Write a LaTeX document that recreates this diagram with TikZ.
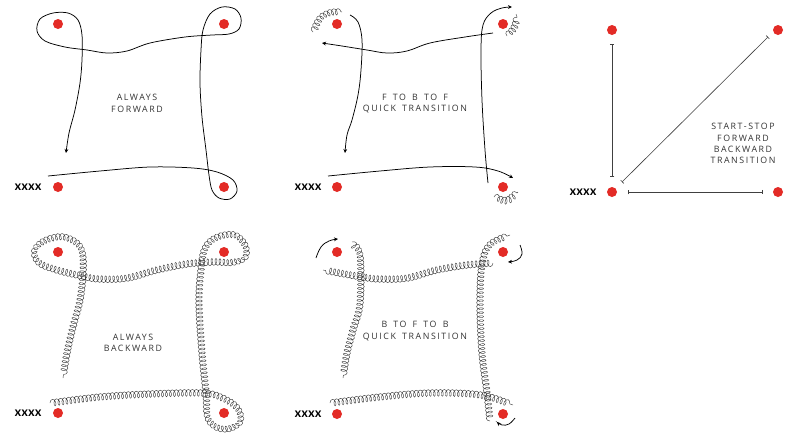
\documentclass[tikz,border=0pt]{standalone}
\usepackage{fontspec}
\usetikzlibrary{arrows.meta,decorations.pathmorphing,calc}
\newfontfamily\labelfont[LetterSpace=18,WordSpace=1.6]{Open Sans}
\newfontfamily\xfont[LetterSpace=6]{Lato Black}
\definecolor{dotred}{HTML}{E32B26}
\definecolor{txtgray}{HTML}{333333}
\tikzset{
  dot/.style={circle,fill=dotred,minimum size=10pt,inner sep=0pt},
  xlabel/.style={font=\xfont\fontsize{9}{10}\selectfont,text=black,inner sep=0pt},
  title/.style={font=\labelfont\fontsize{8.8}{11.3}\selectfont,text=txtgray,align=center,inner sep=0pt},
  fline/.style={line width=0.75pt,black},
  tip/.style={-{Stealth[length=4pt,width=3.8pt]}},
  coiled/.style={line width=0.45pt,black!75,decorate,decoration={coil,amplitude=3.4pt,segment length=4pt,aspect=0.55}},
  barline/.style={line width=0.6pt,black!75,{Bar[width=4.5pt]}-{Bar[width=4.5pt]}},
}
% Catmull-Rom curve through x/y points, with non-degenerate end controls
\newcommand\crcurve[2]{%
  \foreach [count=\k] \px/\py in {#2} {\coordinate (cr\k) at (\px,\py); \xdef\crN{\k}}%
  \coordinate (cr0) at (cr1);%
  \pgfmathtruncatemacro\crM{\crN+1}%
  \coordinate (cr\crM) at (cr\crN);%
  \pgfmathtruncatemacro\crL{\crN-1}%
  \draw[#1] (cr1) foreach \a [evaluate=\a as \b using int(\a+1), evaluate=\a as \z using int(\a-1), evaluate=\a as \c using int(\a+2)] in {1,...,\crL} { .. controls ($(cr\a)+0.16667*(cr\b)-0.16667*(cr\z)$) and ($(cr\b)-0.16667*(cr\c)+0.16667*(cr\a)$) .. (cr\b) };%
}
\begin{document}
\begin{tikzpicture}[x=1pt,y=-1pt]
\path[use as bounding box,fill=white] (0,0) rectangle (793,432);

% ---------- Panel 1: always forward ----------
\begin{scope}
\node[dot] (a1) at (58,24) {};
\node[dot] (a2) at (224,24) {};
\node[dot] (a3) at (58,187) {};
\node[dot] (a4) at (224,187) {};
\node[xlabel] (ax) at (28,187) {XXXX};
\node[title] (at) at (137,103.5) {ALWAYS\\FORWARD};
\draw[fline,tip] plot[smooth,tension=0.55] coordinates {
 (48,176) (100,171) (150,167) (193,168) (217,172) (233,180) (237,191) (230,199) (219,198) (212,190)
 (209,175) (206,150) (202,117) (200,83) (201,50) (203,30) (210,14) (222,7) (235,9) (241,18) (239,29)
 (229,34) (212,35) (185,37) (150,43) (127,51) (107,53) (87,50) (65,47) (45,41) (37,31) (40,19)
 (53,13) (68,13) (78,20) (82,35) (82,60) (80,83) (75,110) (69,133) (66,153)};
\end{scope}

% ---------- Panel 2: F to B to F ----------
\begin{scope}[shift={(280,0)}]
\node[dot] (b1) at (57,24) {};
\node[dot] (b2) at (223,24) {};
\node[dot] (b3) at (57,187) {};
\node[dot] (b4) at (223,187) {};
\node[xlabel] (bx) at (28,187) {XXXX};
\node[title] (bt) at (135,103.5) {F TO B TO F\\QUICK TRANSITION};
\draw[fline,tip] plot[smooth,tension=0.6] coordinates {
 (48,176) (100,171) (150,167) (195,167) (218,171) (233,178)};
\draw[fline,tip] plot[smooth,tension=0.6] coordinates {
 (208,183) (205,150) (202,100) (201,50) (203,25) (211,13) (222,8) (232,7)};
\draw[fline,tip] plot[smooth,tension=0.6] coordinates {
 (213,33) (185,37) (150,43) (127,51) (107,53) (87,50) (62,46) (42,43)};
\draw[fline,tip] plot[smooth,tension=0.6] coordinates {
 (70,15) (78,22) (82,40) (81,70) (78,95) (72,120) (67,135) (65,153)};
\crcurve{coiled}{33/32, 40/19, 50/13, 62/12}
\crcurve{coiled}{227/36, 233/29, 236/21, 236/14}
\crcurve{coiled}{214/197, 226/200, 238/192}
\end{scope}

% ---------- Panel 3: start-stop ----------
\begin{scope}
\node[dot] (c1) at (612,30) {};
\node[dot] (c2) at (778,30) {};
\node[dot] (c3) at (612,192) {};
\node[dot] (c4) at (778,192) {};
\node[xlabel] (cx) at (583,192) {XXXX};
\node[title] (ct) at (743,143.5) {START-STOP\\FORWARD\\BACKWARD\\TRANSITION};
\draw[barline] ($(c1)+(0,14)$) -- ($(c3)+(0,-15)$);
\draw[barline] ($(c3)+(10,-10)$) -- ($(c2)+(-10,7)$);
\draw[barline] ($(c3)+(16,0)$) -- ($(c4)+(-15,0)$);
\end{scope}

% ---------- Panel 4: always backward ----------
\begin{scope}[shift={(0,227)}]
\node[dot] (d1) at (58,25) {};
\node[dot] (d2) at (224,25) {};
\node[dot] (d3) at (58,186) {};
\node[dot] (d4) at (224,186) {};
\node[xlabel] (dx) at (28,186) {XXXX};
\node[title] (dt) at (133,115.5) {ALWAYS\\BACKWARD};
\crcurve{coiled}{50/176, 100/170, 150/167, 200/166, 220/170, 236/180, 240/193, 230/201, 217/200, 208/190,
 206/166, 202/126, 199/76, 201/43, 205/22, 216/11, 233/8, 244/17, 245/29, 233/35,
 213/35, 187/37, 157/43, 127/51, 100/52, 82/49, 57/43, 40/36, 35/25, 43/15, 60/10,
 75/15, 82/26, 83/46, 80/73, 73/100, 67/126, 63/151}
\end{scope}

% ---------- Panel 5: B to F to B ----------
\begin{scope}[shift={(280,227)}]
\node[dot] (e1) at (57,25) {};
\node[dot] (e2) at (223,25) {};
\node[dot] (e3) at (57,187) {};
\node[dot] (e4) at (223,187) {};
\node[xlabel] (ex) at (28,187) {XXXX};
\node[title] (et) at (135,104) {B TO F TO B\\QUICK TRANSITION};
\crcurve{coiled}{50/176, 100/170, 150/166, 200/168, 233/178}
\crcurve{coiled}{210/194, 207/166, 202/126, 200/76, 202/38, 210/18, 230/8}
\crcurve{coiled}{213/36, 187/38, 157/43, 127/51, 100/52, 82/50, 43/43}
\crcurve{coiled}{72/15, 80/30, 80/76, 73/103, 67/126, 63/151}
\draw[fline,tip] plot[smooth,tension=0.7] coordinates {(36,31) (41,20) (49,14) (58,12)};
\draw[fline,tip] plot[smooth,tension=0.7] coordinates {(240,18) (242,27) (237,33) (228,35)};
\draw[fline,tip] plot[smooth,tension=0.7] coordinates {(235,191) (229,197) (222,198) (217,195)};
\end{scope}
\end{tikzpicture}
\end{document}
